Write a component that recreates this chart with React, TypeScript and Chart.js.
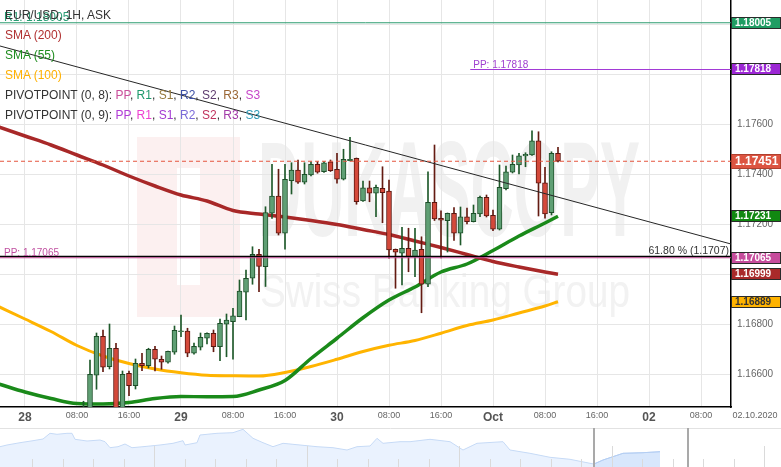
import React, { useEffect, useRef } from 'react';
import { Chart, registerables } from 'chart.js';

Chart.register(...registerables);

const FONT = "'Liberation Sans', Arial, Helvetica, sans-serif";

// ---- Candles: hours counted from 28 Sep 2020 00:00, one candle per hour ----
const firstCandleHour = 9;
const opens = [1.16396, 1.16456, 1.16595, 1.16751, 1.16629, 1.16703, 1.16456, 1.16603, 1.16553, 1.16643, 1.16633, 1.16699, 1.16659, 1.16647, 1.16687, 1.16769, 1.16772, 1.16683, 1.16707, 1.16743, 1.16763, 1.16709, 1.16799, 1.16809, 1.16829, 1.16927, 1.16983, 1.17079, 1.17029, 1.17243, 1.17312, 1.17163, 1.17373, 1.17416, 1.17367, 1.17396, 1.17439, 1.17409, 1.17449, 1.17419, 1.17379, 1.17453, 1.17463, 1.17292, 1.17345, 1.17323, 1.17343, 1.17332, 1.17099, 1.17083, 1.17103, 1.17069, 1.17099, 1.16959, 1.17287, 1.17223, 1.17213, 1.17243, 1.17163, 1.17229, 1.17209, 1.17240, 1.17307, 1.17235, 1.17179, 1.17341, 1.17407, 1.17436, 1.17472, 1.17476, 1.17533, 1.17365, 1.17245, 1.17483];
const highs = [1.16491, 1.16656, 1.16764, 1.16776, 1.16800, 1.16723, 1.16612, 1.16612, 1.16660, 1.16683, 1.16703, 1.16711, 1.16672, 1.16692, 1.16792, 1.16836, 1.16783, 1.16724, 1.16764, 1.16765, 1.16776, 1.16820, 1.16840, 1.16863, 1.16976, 1.17016, 1.17109, 1.17099, 1.17269, 1.17439, 1.17419, 1.17439, 1.17445, 1.17456, 1.17445, 1.17449, 1.17449, 1.17450, 1.17456, 1.17483, 1.17499, 1.17547, 1.17464, 1.17372, 1.17372, 1.17356, 1.17429, 1.17376, 1.17100, 1.17187, 1.17183, 1.17183, 1.17149, 1.17409, 1.17516, 1.17253, 1.17244, 1.17266, 1.17268, 1.17264, 1.17276, 1.17312, 1.17316, 1.17256, 1.17436, 1.17432, 1.17476, 1.17483, 1.17485, 1.17573, 1.17569, 1.17427, 1.17489, 1.17507];
const lows = [1.16384, 1.16444, 1.16539, 1.16609, 1.16620, 1.16436, 1.16444, 1.16513, 1.16540, 1.16613, 1.16624, 1.16612, 1.16619, 1.16643, 1.16679, 1.16749, 1.16669, 1.16679, 1.16696, 1.16720, 1.16689, 1.16653, 1.16669, 1.16659, 1.16829, 1.16816, 1.16959, 1.16929, 1.16950, 1.17222, 1.17156, 1.17099, 1.17320, 1.17362, 1.17360, 1.17392, 1.17403, 1.17406, 1.17410, 1.17363, 1.17376, 1.17452, 1.17279, 1.17290, 1.17289, 1.17229, 1.17205, 1.17063, 1.16943, 1.16956, 1.17009, 1.16989, 1.16845, 1.16949, 1.17214, 1.17064, 1.17088, 1.17134, 1.17116, 1.17200, 1.17208, 1.17229, 1.17228, 1.17173, 1.17176, 1.17336, 1.17404, 1.17400, 1.17429, 1.17474, 1.17232, 1.17223, 1.17236, 1.17448];
const closes = [1.16436, 1.16599, 1.16751, 1.16627, 1.16703, 1.16456, 1.16599, 1.16553, 1.16643, 1.16633, 1.16699, 1.16659, 1.16647, 1.16691, 1.16775, 1.16772, 1.16683, 1.16711, 1.16747, 1.16763, 1.16709, 1.16803, 1.16816, 1.16833, 1.16932, 1.16983, 1.17079, 1.17030, 1.17246, 1.17312, 1.17163, 1.17379, 1.17416, 1.17367, 1.17399, 1.17439, 1.17407, 1.17445, 1.17413, 1.17379, 1.17459, 1.17459, 1.17289, 1.17345, 1.17323, 1.17347, 1.17325, 1.17096, 1.17087, 1.17103, 1.17069, 1.17096, 1.16959, 1.17287, 1.17220, 1.17215, 1.17243, 1.17163, 1.17229, 1.17209, 1.17243, 1.17307, 1.17232, 1.17179, 1.17347, 1.17409, 1.17439, 1.17473, 1.17479, 1.17533, 1.17363, 1.17240, 1.17483, 1.17451];

// ---- Moving averages (read every 4 hours) ----
const smaHours = [-4, 0, 4, 8, 12, 16, 20, 24, 28, 32, 36, 40, 44, 48, 52, 56, 60, 64, 68, 72, 76, 80, 82];
const sma200 = [1.17588, 1.17552, 1.17516, 1.17476, 1.17436, 1.17392, 1.17352, 1.17316, 1.17292, 1.17254, 1.17240, 1.17228, 1.17214, 1.17198, 1.17178, 1.17158, 1.17132, 1.17106, 1.17078, 1.17050, 1.17028, 1.17008, 1.16999];
const sma55 = [1.16560, 1.16528, 1.16502, 1.16482, 1.16480, 1.16486, 1.16502, 1.16510, 1.16509, 1.16510, 1.16536, 1.16574, 1.16662, 1.16743, 1.16825, 1.16896, 1.16948, 1.17008, 1.17040, 1.17094, 1.17152, 1.17204, 1.17231];
const sma100 = [1.16869, 1.16820, 1.16770, 1.16714, 1.16672, 1.16642, 1.16620, 1.16605, 1.16595, 1.16593, 1.16592, 1.16606, 1.16630, 1.16659, 1.16690, 1.16715, 1.16734, 1.16763, 1.16794, 1.16816, 1.16844, 1.16872, 1.16889];

// ---- Axis ticks ----
const xTickHours = [0, 8, 16, 24, 32, 40, 48, 56, 64, 72, 80, 88, 96, 104];
const xTickLabels = ['28', '08:00', '16:00', '29', '08:00', '16:00', '30', '08:00', '16:00', 'Oct', '08:00', '16:00', '02', '08:00'];
const dayTickHours = [0, 24, 48, 72, 96];
const yTickValues = [1.166, 1.168, 1.170, 1.172, 1.174, 1.176, 1.178, 1.180];
const yTickLabels = ['1.16600', '1.16800', '', '1.17200', '1.17400', '1.17600', '', ''];
const xMin = -3.846;
const xMax = 108.615;
const yMin = 1.16468;
const yMax = 1.18096;
const dateLabel = '02.10.2020';

// ---- Levels ----
const r1Level = 1.18005;
const pp9Level = 1.17818;
const pp9StartHour = 68.5;
const lastPrice = 1.17451;
const pp8Level = 1.17065;
const fibLevel = 1.1707;
const fibText = '61.80 % (1.1707)';
const trendHours = [xMin, xMax];
const trendPrices = [1.17912, 1.17120];

const priceTagValues = [1.18005, 1.17818, 1.17451, 1.17231, 1.17065, 1.16999, 1.16889];
const priceTagColors = ['#1f9d63', '#9c27d4', '#dc5441', '#118811', '#c64c9c', '#a92a2a', '#ffb300'];
const priceTagText = ['#ffffff', '#ffffff', '#ffffff', '#ffffff', '#ffffff', '#ffffff', '#333333'];

// ---- Navigator ----
const navX = [0, 7, 20, 33, 43, 50, 57, 67, 72, 75, 87, 100, 105, 110, 118, 125, 132, 143, 160, 173, 183, 185, 197, 200, 217, 233, 243, 253, 263, 273, 283, 300, 317, 333, 347, 357, 370, 377, 383, 400, 410, 430, 450, 463, 477, 503, 510, 530, 550, 570, 590, 594, 603, 623, 643, 660];
const navH = [20.3, 22, 24.3, 26.3, 28, 33.7, 32.7, 33.7, 33.7, 27.7, 26, 27, 25.3, 19.3, 20.3, 23, 19.3, 20.3, 22, 23.7, 26.3, 22, 24.3, 32, 33.7, 34.3, 37.7, 28.7, 24.3, 20.3, 23.7, 22, 20.3, 19.3, 17, 20.3, 21, 28.7, 23.7, 25.3, 25.3, 27.7, 25.3, 17, 23.7, 25.3, 17, 13.7, 9.7, 7.7, 3.7, 3, 7, 13.7, 14.3, 15.3];
const navWindow = [594, 688];

const pivot8Names = ['PP', 'R1', 'S1', 'R2', 'S2', 'R3', 'S3'];
const pivot8Colors = ['#c94f9b', '#1f9a6c', '#967a3d', '#3c4fa3', '#5e3c6e', '#9a6634', '#c644c8'];
const pivot9Colors = ['#b03bd6', '#ee3fd0', '#a23ad2', '#7a6bd8', '#c0325c', '#a23aa8', '#2f9ab6'];

const upFill = '#5f9f74';
const upLine = '#1d4f29';
const downFill = '#d4493a';
const downLine = '#5a1710';

const mainPlugin = {
  id: 'fxDecor',
  beforeDraw(chart: any) {
    const { ctx, chartArea: a } = chart;
    ctx.save();
    ctx.beginPath();
    ctx.rect(a.left, a.top, a.right - a.left, a.bottom - a.top);
    ctx.clip();
    ctx.fillStyle = 'rgba(214, 40, 40, 0.07)';
    ctx.fillRect(137, 137, 103, 180);
    ctx.fillStyle = '#ffffff';
    ctx.fillRect(177, 168, 23, 117);
    ctx.fillStyle = '#f1f1f1';
    ctx.font = `bold 136px ${FONT}`;
    ctx.textBaseline = 'alphabetic';
    const w = ctx.measureText('DUKASCOPY').width;
    ctx.save();
    ctx.translate(258, 236);
    ctx.scale(382 / w, 1);
    ctx.fillText('DUKASCOPY', 0, 0);
    ctx.restore();
    ctx.fillStyle = '#f2f2f2';
    ctx.font = `47px ${FONT}`;
    const w2 = ctx.measureText('Swiss Banking Group').width;
    ctx.translate(260, 307);
    ctx.scale(370 / w2, 1);
    ctx.fillText('Swiss Banking Group', 0, 0);
    ctx.restore();
  },
  afterDatasetsDraw(chart: any) {
    const { ctx, chartArea: a, scales } = chart;
    const x = scales.x;
    const y = scales.y;
    ctx.save();
    ctx.textBaseline = 'middle';
    ctx.font = `10px ${FONT}`;
    ctx.fillStyle = '#a040d0';
    ctx.textAlign = 'left';
    ctx.fillText('PP: ' + pp9Level.toFixed(5), x.getPixelForValue(pp9StartHour) + 3, y.getPixelForValue(pp9Level) - 4.5);
    ctx.fillStyle = '#c050a0';
    ctx.fillText('PP: ' + pp8Level.toFixed(5), a.left + 4, y.getPixelForValue(pp8Level) - 5);
    ctx.fillStyle = '#333333';
    ctx.font = `10.5px ${FONT}`;
    ctx.textAlign = 'right';
    ctx.fillText(fibText, a.right - 2, y.getPixelForValue(fibLevel) - 5);
    ctx.restore();
  },
  afterDraw(chart: any) {
    const { ctx, chartArea: a, scales } = chart;
    const y = scales.y;
    ctx.save();
    priceTagValues.forEach((v, i) => {
      const big = v === lastPrice;
      const h = big ? 15 : 12;
      const py = y.getPixelForValue(v);
      const top = Math.round(py - h / 2);
      ctx.fillStyle = priceTagColors[i];
      ctx.fillRect(a.right, top, 50, h);
      ctx.strokeStyle = big ? '#b0402f' : '#2a2a2a';
      ctx.lineWidth = 1;
      ctx.strokeRect(a.right + 0.5, top + 0.5, 49, h - 1);
      ctx.fillStyle = priceTagText[i];
      ctx.font = `bold ${big ? 12 : 10}px ${FONT}`;
      ctx.textBaseline = 'middle';
      ctx.textAlign = 'left';
      ctx.fillText(v.toFixed(5), a.right + 4, top + h / 2 + 0.5);
    });
    ctx.fillStyle = '#666666';
    ctx.font = `9px ${FONT}`;
    ctx.textAlign = 'center';
    ctx.textBaseline = 'middle';
    ctx.fillText(dateLabel, a.right + 24, a.bottom + 9);
    ctx.restore();
  },
};

const navPlugin = {
  id: 'navDecor',
  afterDatasetsDraw(chart: any) {
    const { ctx, scales, width, height } = chart;
    const x = scales.x;
    ctx.save();
    ctx.strokeStyle = '#dadada';
    ctx.lineWidth = 1;
    for (let k = 0; k < 26; k++) {
      const px = Math.round(x.getPixelForValue(32 + k * 30.5)) + 0.5;
      const tall = k % 5 === 4;
      ctx.beginPath();
      ctx.moveTo(px, tall ? 18 : 31);
      ctx.lineTo(px, height);
      ctx.stroke();
    }
    ctx.strokeStyle = '#e2e2e2';
    ctx.beginPath();
    ctx.moveTo(0, 0.5);
    ctx.lineTo(width, 0.5);
    ctx.stroke();
    ctx.fillStyle = '#a9a9a9';
    navWindow.forEach((v) => {
      const px = Math.round(x.getPixelForValue(v));
      ctx.fillRect(px - 1, 0, 2, height);
    });
    ctx.restore();
  },
};

function hLine(value: number, fromHour: number, color: string, width: number, dash: number[] = []) {
  return {
    type: 'line',
    data: [{ x: fromHour, y: value }, { x: xMax, y: value }],
    borderColor: color,
    borderWidth: width,
    borderDash: dash,
    pointRadius: 0,
    order: 0,
  };
}

export default function App() {
  const mainRef = useRef<HTMLCanvasElement | null>(null);
  const navRef = useRef<HTMLCanvasElement | null>(null);

  useEffect(() => {
    document.body.style.margin = '0';
    const up = opens.map((o, i) => closes[i] >= o);
    const bodyData = opens.map((o, i) => ({ x: firstCandleHour + i, y: [o, closes[i]] }));
    const wickData = opens.map((_, i) => ({ x: firstCandleHour + i, y: [lows[i], highs[i]] }));
    const smaLine = (vals: number[], color: string, w: number) => ({
      type: 'line',
      data: vals.map((v, i) => ({ x: smaHours[i], y: v })),
      borderColor: color,
      borderWidth: w,
      pointRadius: 0,
      cubicInterpolationMode: 'monotone',
      order: 3,
    });

    const main = new Chart(mainRef.current as HTMLCanvasElement, {
      type: 'bar',
      data: {
        datasets: [
          hLine(r1Level, xMin, '#2e9c70', 1),
          hLine(pp9Level, pp9StartHour, '#a23ad6', 1),
          hLine(lastPrice, xMin, '#e5553f', 1, [4, 3]),
          hLine(pp8Level, xMin, '#c04b94', 1.2),
          hLine(fibLevel, xMin, '#000000', 1.3),
          {
            type: 'line',
            data: trendHours.map((h, i) => ({ x: h, y: trendPrices[i] })),
            borderColor: '#262626',
            borderWidth: 1,
            pointRadius: 0,
            order: 0,
          },
          {
            type: 'bar',
            data: bodyData,
            backgroundColor: up.map((u) => (u ? upFill : downFill)),
            borderColor: up.map((u) => (u ? upLine : downLine)),
            borderWidth: 1,
            borderSkipped: false,
            barThickness: 5,
            minBarLength: 1,
            grouped: false,
            order: 1,
          },
          {
            type: 'bar',
            data: wickData,
            backgroundColor: up.map((u) => (u ? '#1f5a2b' : '#641b12')),
            borderWidth: 0,
            barThickness: 1,
            grouped: false,
            order: 2,
          },
          smaLine(sma200, '#a82828', 3.5),
          smaLine(sma55, '#1a8a1a', 3.5),
          smaLine(sma100, '#ffb400', 3),
        ] as any,
      },
      options: {
        animation: false,
        responsive: false,
        devicePixelRatio: 1,
        events: [],
        layout: { padding: 0 },
        plugins: { legend: { display: false }, tooltip: { enabled: false } },
        scales: {
          x: {
            type: 'linear',
            min: xMin,
            max: xMax,
            offset: false,
            afterBuildTicks: (s: any) => {
              s.ticks = xTickHours.map((v) => ({ value: v }));
            },
            afterFit: (s: any) => {
              s.height = 21;
              s.paddingLeft = 0;
              s.paddingRight = 0;
            },
            ticks: {
              autoSkip: false,
              maxRotation: 0,
              minRotation: 0,
              padding: 3,
              callback: (v: any) => {
                const i = xTickHours.indexOf(Number(v));
                return i >= 0 ? xTickLabels[i] : '';
              },
              color: (c: any) => (dayTickHours.includes(c.tick && c.tick.value) ? '#555555' : '#666666'),
              font: (c: any) =>
                dayTickHours.includes(c.tick && c.tick.value)
                  ? { family: FONT, size: 12, weight: 'bold' }
                  : { family: FONT, size: 9 },
            },
            grid: { color: '#e6e6e6', drawTicks: false, offset: false },
            border: { color: '#000000', width: 1.5 },
          },
          y: {
            type: 'linear',
            position: 'right',
            min: yMin,
            max: yMax,
            beginAtZero: false,
            afterBuildTicks: (s: any) => {
              s.ticks = yTickValues.map((v) => ({ value: v }));
            },
            afterFit: (s: any) => {
              s.width = 50;
              s.paddingTop = 0;
              s.paddingBottom = 0;
            },
            ticks: {
              padding: 6,
              color: '#666666',
              font: { family: FONT, size: 10 },
              callback: (v: any) => {
                const i = yTickValues.findIndex((t) => Math.abs(t - Number(v)) < 1e-9);
                return i >= 0 ? yTickLabels[i] : '';
              },
            },
            grid: { color: '#e6e6e6', drawTicks: false },
            border: { color: '#000000', width: 1.5 },
          },
        },
      } as any,
      plugins: [mainPlugin],
    });

    const highlightIdx = navX.map((v, i) => (v >= navWindow[0] ? i : -1)).filter((i) => i >= 0);
    const nav = new Chart(navRef.current as HTMLCanvasElement, {
      type: 'line',
      data: {
        datasets: [
          {
            data: highlightIdx.map((i) => ({ x: navX[i], y: navH[i] })),
            fill: 'origin',
            backgroundColor: 'rgba(150, 190, 245, 0.22)',
            borderColor: '#b3cdf2',
            borderWidth: 1,
            pointRadius: 0,
            order: 0,
          },
          {
            data: navX.map((v, i) => ({ x: v, y: navH[i] })),
            fill: 'origin',
            backgroundColor: 'rgba(180, 210, 250, 0.28)',
            borderColor: '#c6daf6',
            borderWidth: 1,
            pointRadius: 0,
            order: 1,
          },
        ] as any,
      },
      options: {
        animation: false,
        responsive: false,
        devicePixelRatio: 1,
        events: [],
        layout: { padding: 0 },
        plugins: { legend: { display: false }, tooltip: { enabled: false } },
        scales: {
          x: { type: 'linear', display: false, min: 0, max: 781 },
          y: { type: 'linear', display: false, min: 0, max: 39 },
        },
      } as any,
      plugins: [navPlugin],
    });

    return () => {
      main.destroy();
      nav.destroy();
    };
  }, []);

  const textStyle: React.CSSProperties = {
    position: 'absolute',
    left: 5,
    whiteSpace: 'pre',
    fontFamily: FONT,
    fontSize: 12,
    lineHeight: '20px',
    height: 20,
  };

  return (
    <div style={{ position: 'absolute', left: 0, top: 0, width: 781, height: 467, background: '#ffffff', overflow: 'hidden' }}>
      <canvas ref={mainRef} width={781} height={428} style={{ position: 'absolute', left: 0, top: 0, display: 'block' }} />
      <canvas ref={navRef} width={781} height={39} style={{ position: 'absolute', left: 0, top: 428, display: 'block' }} />
      <div style={{ ...textStyle, left: 4, top: 7, color: '#2a9d74' }}>{'R1: ' + r1Level.toFixed(5)}</div>
      <div style={{ ...textStyle, top: 5, color: '#333333' }}>EUR/USD, 1H, ASK</div>
      <div style={{ ...textStyle, top: 25, color: '#b03030' }}>SMA (200)</div>
      <div style={{ ...textStyle, top: 45, color: '#1e8c1e' }}>SMA (55)</div>
      <div style={{ ...textStyle, top: 65, color: '#ffb000' }}>SMA (100)</div>
      <div style={{ ...textStyle, top: 85, color: '#333333' }}>
        {'PIVOTPOINT (0, 8): '}
        {pivot8Names.map((n, i) => (
          <span key={n}>
            <span style={{ color: pivot8Colors[i] }}>{n}</span>
            {i < pivot8Names.length - 1 ? ', ' : ''}
          </span>
        ))}
      </div>
      <div style={{ ...textStyle, top: 105, color: '#333333' }}>
        {'PIVOTPOINT (0, 9): '}
        {pivot8Names.map((n, i) => (
          <span key={n}>
            <span style={{ color: pivot9Colors[i] }}>{n}</span>
            {i < pivot8Names.length - 1 ? ', ' : ''}
          </span>
        ))}
      </div>
    </div>
  );
}
